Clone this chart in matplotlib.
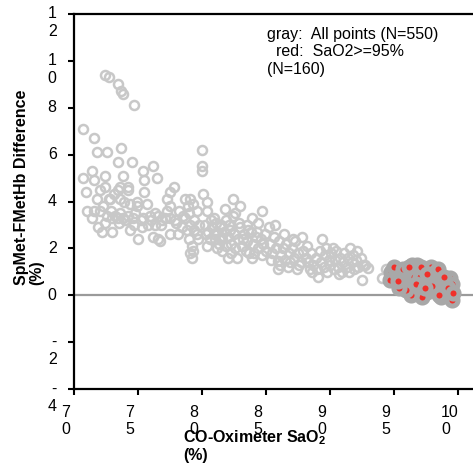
import numpy as np
import matplotlib
matplotlib.use("Agg")
import matplotlib.pyplot as plt
import matplotlib.transforms as mtransforms

plt.rcParams['font.family'] = ['Liberation Sans', 'DejaVu Sans']
plt.rcParams['mathtext.fontset'] = 'custom'
plt.rcParams['mathtext.rm'] = 'Liberation Sans'
plt.rcParams['mathtext.bf'] = 'Liberation Sans:bold'

# all points (gray)
gray_x = [70.7, 71.6, 71.8, 72.6, 72.4, 72.7, 73.4, 73.7, 73.8, 74.7,
          73.7, 73.4, 74.5, 70.7, 71.4, 71.6, 72.4, 73.8, 75.4, 76.2,
          76.5, 75.5, 80.0, 80.0, 80.0,
          70.9, 71.8, 72.0, 72.4, 72.8, 73.4, 74.2, 74.9, 75.7, 71.0,
          71.4, 71.6, 72.0, 72.3, 72.7, 71.9, 72.2, 73.0, 73.6, 73.6,
          74.2, 73.2, 73.8, 74.2, 74.4, 74.9, 73.4, 73.6, 74.0, 74.6,
          73.0, 72.6, 74.8, 73.9, 74.4, 73.1, 72.9, 73.5, 74.7, 72.4,
          75.0, 75.2, 75.4, 75.5, 75.9, 76.3, 76.6, 76.6, 76.7, 77.3,
          77.3, 77.5, 77.5, 77.5, 77.5, 78.7, 78.7, 79.1, 79.1, 79.2,
          79.1, 79.2, 79.6, 79.6, 80.1, 78.0, 78.4, 78.2, 76.0, 76.9,
          77.9, 75.8, 76.3, 76.8, 77.1, 78.5, 79.0, 79.4, 79.8, 79.4,
          78.8, 78.1, 76.2, 75.3, 77.8, 78.9, 79.3, 79.7, 79.0, 79.3,
          80.4, 80.9, 81.2, 81.8, 81.6, 81.9, 81.2, 82.4, 83.0, 82.4,
          83.9, 83.5, 84.7, 80.4, 80.4, 82.6, 84.4, 85.2, 82.0, 82.7,
          83.7, 80.2, 80.5, 80.8, 81.0, 81.4, 81.5, 81.7, 82.0, 82.2,
          82.3, 82.5, 82.8, 83.0, 83.1, 83.3, 83.5, 83.8, 84.0, 84.2,
          84.4, 84.6, 84.8, 85.0, 80.6, 81.3, 81.9, 82.6, 83.4, 84.1,
          80.3, 80.9, 81.1, 82.1, 82.9, 83.6, 84.3, 80.7, 81.5, 83.2,
          84.7, 83.9, 82.3, 81.6, 84.9,
          85.7, 87.8, 85.9, 85.9, 87.7, 85.3, 85.5, 85.6, 85.8, 86.0,
          86.2, 86.3, 86.5, 86.6, 86.8, 86.9, 87.0, 87.2, 87.3, 87.5,
          87.6, 87.9, 86.1, 86.7, 87.4, 85.4, 86.4, 87.1,
          89.4, 88.2, 88.4, 89.1, 92.5, 92.6, 93.0, 92.7, 94.1, 88.1,
          88.3, 88.5, 88.7, 88.9, 89.0, 89.2, 89.3, 89.5, 89.6, 89.8,
          89.9, 90.0, 90.1, 90.3, 90.4, 90.5, 90.6, 90.8, 90.9, 91.0,
          91.1, 91.3, 91.4, 91.5, 91.7, 91.8, 91.9, 92.0, 92.1, 92.2,
          92.4, 90.2, 89.7, 91.6, 88.6, 90.7, 94.4]
gray_y = [7.1, 6.7, 6.1, 6.1, 9.4, 9.3, 9.0, 8.7, 8.6, 8.1,
          6.3, 5.7, 5.7, 5.0, 5.3, 4.9, 5.1, 5.1, 5.3, 5.5,
          5.0, 4.9, 6.2, 5.5, 5.3,
          4.4, 4.1, 4.5, 4.6, 4.1, 4.5, 4.6, 4.0, 3.9, 3.6,
          3.3, 3.6, 3.6, 3.8, 4.1, 2.9, 2.7, 2.7, 4.1, 4.6,
          4.5, 3.4, 3.3, 3.4, 2.8, 3.8, 3.3, 3.5, 3.2, 3.3,
          3.3, 3.4, 3.5, 4.0, 3.9, 4.3, 3.6, 3.1, 3.0, 3.1,
          2.4, 3.2, 3.3, 4.4, 3.4, 3.0, 2.4, 3.4, 2.3, 3.6,
          4.1, 4.4, 3.8, 3.3, 2.6, 4.1, 3.3, 4.1, 3.0, 2.1,
          1.8, 1.6, 3.6, 2.6, 4.3, 3.1, 2.9, 3.6, 3.2, 3.2,
          3.2, 3.0, 3.5, 3.0, 3.3, 3.4, 3.5, 3.2, 3.0, 2.8,
          2.8, 2.6, 2.5, 2.9, 4.6, 3.8, 3.9, 2.4, 2.4, 1.9,
          3.6, 3.3, 2.7, 3.7, 2.4, 3.2, 2.0, 4.1, 3.8, 3.4,
          3.3, 3.0, 3.6, 2.1, 4.0, 3.5, 3.1, 2.9, 1.6, 1.6,
          1.8, 3.0, 2.7, 2.9, 2.4, 2.9, 3.0, 2.7, 2.5, 2.8,
          2.2, 2.6, 2.4, 2.9, 2.1, 2.6, 2.3, 2.7, 2.2, 2.5,
          2.0, 2.4, 2.2, 1.9, 2.4, 2.2, 2.1, 2.0, 1.9, 1.8,
          2.6, 2.6, 3.1, 3.0, 3.1, 2.8, 2.7, 3.2, 2.5, 2.4,
          1.7, 1.6, 1.8, 1.9, 2.6,
          3.0, 2.5, 1.1, 1.45, 1.4, 2.2, 1.8, 2.5, 2.0, 2.3,
          1.7, 2.0, 1.5, 2.2, 1.8, 1.4, 2.0, 1.6, 2.3, 1.8,
          1.3, 1.9, 1.3, 1.2, 1.1, 1.5, 2.6, 2.4,
          2.4, 2.1, 1.1, 0.8, 0.64, 1.3, 1.15, 1.3, 0.73, 1.6,
          1.4, 1.8, 1.3, 1.6, 1.1, 1.9, 1.4, 1.2, 1.7, 1.0,
          1.5, 1.3, 1.8, 1.1, 1.5, 1.9, 1.2, 1.6, 1.0, 1.4,
          1.8, 1.2, 1.6, 1.0, 1.4, 1.7, 1.1, 1.5, 1.9, 1.2,
          1.6, 2.0, 2.0, 2.0, 1.0, 0.9, 1.1]

# SaO2 >= 95% subset (red)
red_x = [94.8, 94.7, 95.5, 95.6, 96.0, 96.4, 96.8, 96.5, 96.1, 96.4,
         96.9, 96.8, 97.3, 97.4, 97.6, 97.9, 98.1, 98.2, 97.8, 98.3,
         98.7, 99.4, 99.5, 99.1, 98.7, 99.5, 97.2, 96.3, 95.9, 98.5,
         96.6, 95.2, 95.0, 95.7, 96.2, 97.0, 97.1, 97.6, 98.0, 98.4,
         99.0, 99.2, 95.4, 96.7, 97.4, 99.6, 98.9, 95.3]
red_y = [1.0, 0.65, 0.65, 0.44, 1.0, 1.3, 1.3, 1.0, 0.3, 0.65,
         0.3, 0.1, 0.44, 1.0, 0.16, 1.2, 0.94, 0.73, 0.6, 0.38,
         0.23, 0.73, 0.5, 0.1, -0.06, -0.2, -0.06, 0.01, 0.23, 0.01,
         0.8, 0.9, 1.2, 1.1, 1.2, 0.8, 1.2, 0.9, 0.4, 1.1,
         0.5, 0.3, 0.3, 0.5, 0.3, 0.1, 0.8, 0.6]

xticks = [70, 75, 80, 85, 90, 95, 100]
xtick_labels = ['7\n0', '7\n5', '8\n0', '8\n5', '9\n0', '9\n5', '10\n0']
yticks = [-4, -2, 0, 2, 4, 6, 8, 10, 12]
ytick_labels = ['-\n4', '-\n2', '0', '2', '4', '6', '8', '1\n0', '1\n2']

W, H = 473, 465
fig = plt.figure(figsize=(W / 100, H / 100), dpi=100)
ax = fig.add_axes([74 / W, 1 - 389 / H, (W - 74) / W, (389 - 14) / H])

ax.axhline(0, color='#9a9a9a', lw=1.6, zorder=1)
ax.plot(gray_x, gray_y, 'o', ms=6.5, mfc='none', mec='#c8c8c8', mew=1.8, zorder=2)
ax.plot(red_x, red_y, 'o', ms=8, mfc='#f0302a', mec='#a8a8a8', mew=3.6, zorder=3)

ax.set_xlim(70, 70 + (W - 74) / 12.8)
ax.set_ylim(-4, 12)

for s in ['left', 'top', 'bottom']:
    ax.spines[s].set_linewidth(1.6)
ax.spines['right'].set_visible(False)

ax.set_xticks(xticks, xtick_labels, fontsize=11.5, ha='center',
              multialignment='left', linespacing=1.2)
ax.set_yticks(yticks, ytick_labels, fontsize=11.5, va='top', linespacing=1.2)
ax.tick_params(axis='both', direction='out', length=4.5, width=1.5)
ax.tick_params(axis='x', pad=7)
ax.tick_params(axis='y', pad=8)

dx = mtransforms.ScaledTranslation(-0.08, 0, fig.dpi_scale_trans)
for lbl in ax.get_xticklabels():
    lbl.set_transform(lbl.get_transform() + dx)
dy = mtransforms.ScaledTranslation(0, 0.075, fig.dpi_scale_trans)
for lbl in ax.get_yticklabels():
    lbl.set_transform(lbl.get_transform() + dy)

fig.text(14 / W, 1 - 285 / H, 'SpMet-FMetHb Difference\n(%)', rotation=90,
         fontsize=11.5, fontweight='bold', ha='left', va='bottom',
         multialignment='left', linespacing=1.0)
fig.text(183 / W, 1 - 428 / H, 'CO-Oximeter SaO$_\\mathbf{2}$\n(%)',
         fontsize=11.5, fontweight='bold', ha='left', va='top',
         multialignment='left', linespacing=1.1)

fig.text(267 / W, 1 - 27 / H, 'gray:  All points (N=550)\n  red:  SaO2>=95%\n(N=160)',
         fontsize=11.5, ha='left', va='top', multialignment='left', linespacing=1.2)

fig.savefig('out.png', dpi=100)
